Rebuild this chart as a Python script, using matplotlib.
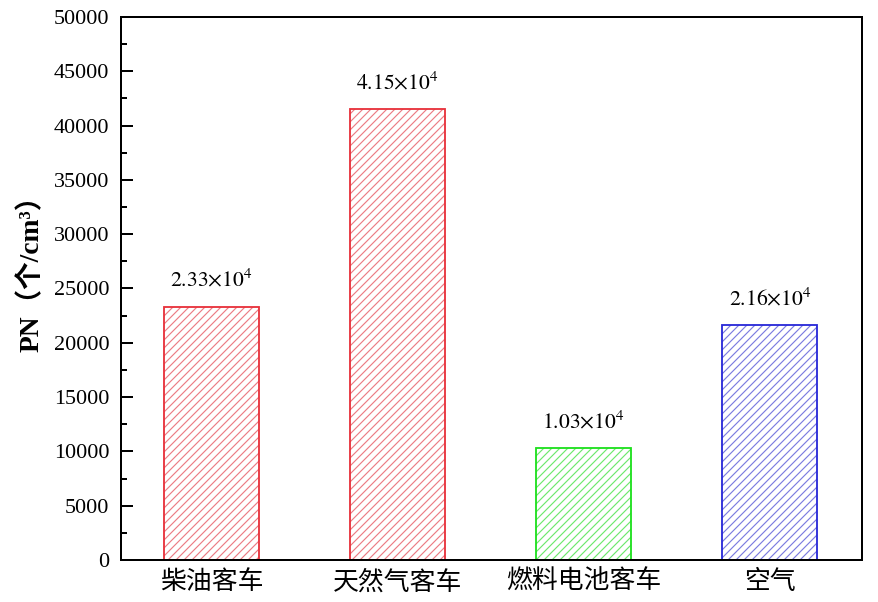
import matplotlib
matplotlib.use('Agg')
import matplotlib.pyplot as plt
from matplotlib.ticker import MultipleLocator

categories = ['柴油客车', '天然气客车', '燃料电池客车', '空气']
pn_values = [23300, 41500, 10300, 21600]
value_labels = [r'$2.33{\times}10^{4}$', r'$4.15{\times}10^{4}$',
                r'$1.03{\times}10^{4}$', r'$2.16{\times}10^{4}$']
edge_colors = ['#e8323c', '#e8323c', '#1ee01e', '#2a2ad8']
hatch_colors = ['#ec7c84', '#ec7c84', '#6ee86e', '#7c7ce0']

plt.rcParams['font.family'] = ['Liberation Serif', 'Noto Sans CJK SC', 'DejaVu Sans']
plt.rcParams['mathtext.fontset'] = 'stix'
plt.rcParams['hatch.linewidth'] = 0.7

DPI = 120
fig = plt.figure(figsize=(878 / DPI, 602 / DPI), dpi=DPI)
ax = fig.add_axes([0.1378, 0.0698, 0.9818 - 0.1378, 0.9718 - 0.0698])

xs = list(range(len(categories)))
for x, v, ec, hc in zip(xs, pn_values, edge_colors, hatch_colors):
    # hatch drawn in a lighter tone, outline on top in the full colour
    ax.bar(x, v, width=0.51, facecolor='white', edgecolor=hc,
           hatch='/////', linewidth=0)
    ax.bar(x, v, width=0.51, facecolor='none', edgecolor=ec, linewidth=1.1)

for x, v, lab in zip(xs, pn_values, value_labels):
    ax.annotate(lab, (x, v), xytext=(0, 9), textcoords='offset points',
                ha='center', va='bottom', fontsize=13)

ax.set_xlim(-0.487, 3.495)
ax.set_ylim(0, 50000)
ax.yaxis.set_major_locator(MultipleLocator(5000))
ax.yaxis.set_minor_locator(MultipleLocator(2500))
ax.set_xticks(xs)
ax.set_xticklabels(categories, fontsize=15.5, family=['Noto Sans CJK SC'])
ax.tick_params(axis='x', length=0, pad=5)
ax.tick_params(axis='y', which='major', direction='in', length=7, width=1.2,
               labelsize=13.3, pad=7)
ax.tick_params(axis='y', which='minor', direction='in', length=3.5, width=1.2)
for sp in ax.spines.values():
    sp.set_linewidth(1.2)

ax.set_ylabel('PN（个/cm³）', fontsize=16.5, fontweight='bold')
ax.yaxis.set_label_coords(-0.103, 0.54)

fig.savefig('out.png', dpi=DPI)
